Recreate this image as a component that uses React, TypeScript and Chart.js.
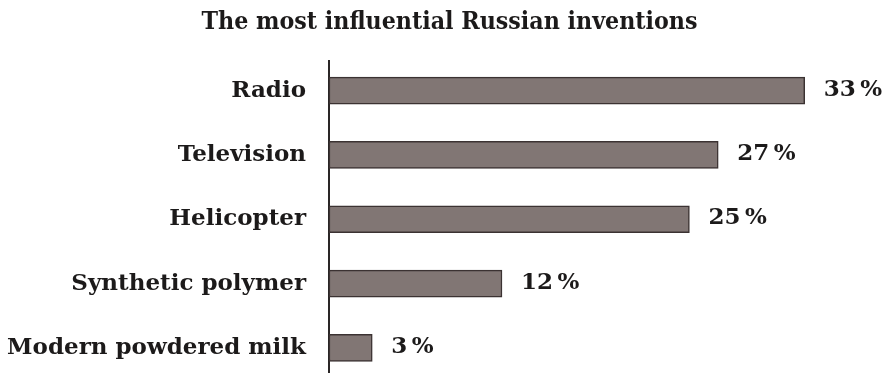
import React, { useEffect, useRef } from 'react';
import { Chart, registerables } from 'chart.js';

Chart.register(...registerables);

const chartTitle = 'The most influential Russian inventions';
const categories = ['Radio', 'Television', 'Helicopter', 'Synthetic polymer', 'Modern powdered milk'];
const values = [33, 27, 25, 12, 3];
const valueLabels = ['33\u2009%', '27\u2009%', '25\u2009%', '12\u2009%', '3\u2009%'];

const FONT = "'DejaVu Serif', 'Liberation Serif', serif";
const TITLE_FONT = "'DejaVu Serif Condensed', 'DejaVu Serif', serif";
const TEXT_COLOR = '#1c1a1a';

export default function App() {
  const ref = useRef<HTMLCanvasElement>(null);

  useEffect(() => {
    const canvas = ref.current;
    if (!canvas) return;

    const titleShiftPlugin = {
      id: 'titleShift',
      afterLayout(chart: any) {
        const tb = chart.titleBlock;
        if (tb) {
          tb.left = 15;
          tb.width = tb.right - tb.left;
        }
      },
    };

    const valueLabelPlugin = {
      id: 'valueLabels',
      afterDatasetsDraw(chart: any) {
        const ctx = chart.ctx;
        const meta = chart.getDatasetMeta(0);
        ctx.save();
        ctx.font = `bold 23px ${FONT}`;
        ctx.fillStyle = TEXT_COLOR;
        ctx.textAlign = 'left';
        ctx.textBaseline = 'middle';
        meta.data.forEach((bar: any, i: number) => {
          ctx.fillText(valueLabels[i], bar.x + 19, bar.y - 1);
        });
        ctx.restore();
      },
    };

    const chart = new Chart(canvas, {
      type: 'bar',
      data: {
        datasets: [
          {
            data: values.map((v, i) => ({ x: v, y: i })),
            backgroundColor: '#817674',
            borderColor: '#3b3232',
            borderWidth: 1.5,
            borderSkipped: false,
            barThickness: 27,
          },
        ],
      },
      options: {
        indexAxis: 'y',
        responsive: false,
        animation: false,
        devicePixelRatio: 1,
        layout: { padding: 0 },
        plugins: {
          legend: { display: false },
          tooltip: { enabled: false },
          title: {
            display: true,
            text: chartTitle,
            color: TEXT_COLOR,
            font: { family: TITLE_FONT, size: 24.7, weight: 'bold', lineHeight: 1.2 },
            padding: { top: 8, bottom: 23.4 },
          },
        },
        scales: {
          x: { type: 'linear', min: 0, max: 38.5, display: false },
          y: {
            type: 'linear',
            reverse: true,
            bounds: 'data',
            offset: false,
            min: -0.46,
            max: 4.39,
            afterBuildTicks: (s: any) => {
              s.ticks = categories.map((_, i) => ({ value: i }));
              s.min = -0.46;
              s.max = 4.39;
            },
            afterFit: (s: any) => {
              s.width = 329;
              s.paddingTop = 0;
              s.paddingBottom = 0;
            },
            grid: { display: false, drawTicks: false, offset: false },
            border: { display: true, color: '#2a2626', width: 2 },
            ticks: {
              padding: 23,
              autoSkip: false,
              color: TEXT_COLOR,
              font: { family: FONT, size: 23, weight: 'bold' },
              callback: (v: any) => categories[v] ?? '',
            },
          },
        },
      },
      plugins: [titleShiftPlugin, valueLabelPlugin],
    } as any);

    return () => chart.destroy();
  }, []);

  return (
    <div style={{ position: 'fixed', left: 0, top: 0, width: 884, height: 373, background: '#fff' }}>
      <canvas ref={ref} width={884} height={373} style={{ display: 'block' }} />
    </div>
  );
}
